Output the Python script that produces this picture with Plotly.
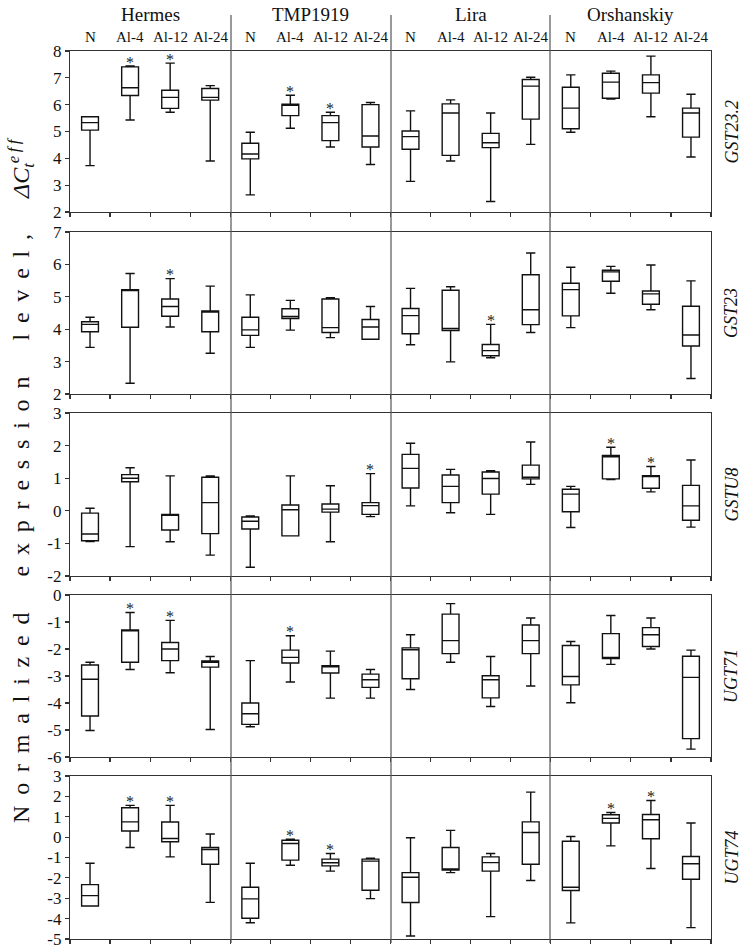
import plotly.graph_objects as go

W, H = 743, 950
OFF = 0

cultivars = ["Hermes", "TMP1919", "Lira", "Orshanskiy"]
treatments = ["N", "Al-4", "Al-12", "Al-24"]
genes = ["GST23.2", "GST23", "GSTU8", "UGT71", "UGT74"]

# ---- GST23.2 (order: Hermes N..Al-24, TMP1919, Lira, Orshanskiy)
gst232_lo  = [3.73, 5.43, 5.72, 3.90,  2.64, 5.12, 4.42, 3.77,  3.14, 3.90, 2.39, 4.52,  4.97, 6.21, 5.55, 4.05]
gst232_q1  = [5.05, 6.34, 5.86, 6.17,  3.98, 5.59, 4.66, 4.42,  4.34, 4.11, 4.40, 5.46,  5.10, 6.24, 6.43, 4.79]
gst232_med = [5.33, 6.63, 6.27, 6.27,  4.16, 5.98, 5.33, 4.83,  4.81, 5.69, 4.58, 6.69,  5.87, 6.84, 6.82, 5.69]
gst232_q3  = [5.55, 7.41, 6.54, 6.60,  4.56, 6.02, 5.59, 6.00,  5.02, 6.03, 4.93, 6.94,  6.65, 7.17, 7.11, 5.87]
gst232_hi  = [5.55, 7.44, 7.55, 6.71,  4.97, 6.35, 5.72, 6.08,  5.77, 6.18, 5.69, 7.02,  7.11, 7.25, 7.81, 6.39]
gst232_sig = [1, 2, 5, 6]

# ---- GST23
gst23_lo  = [3.44, 2.33, 4.07, 3.26,  3.44, 3.97, 3.74, 3.69,  3.52, 2.99, 3.12, 3.90,  4.05, 5.11, 4.60, 2.48]
gst23_q1  = [3.92, 4.06, 4.40, 3.92,  3.81, 4.33, 3.90, 3.69,  3.86, 3.96, 3.18, 4.14,  4.41, 5.48, 4.77, 3.48]
gst23_med = [4.15, 5.20, 4.70, 4.54,  3.98, 4.39, 4.05, 4.07,  4.42, 4.02, 3.34, 4.60,  5.22, 5.77, 5.09, 3.82]
gst23_q3  = [4.23, 5.22, 4.93, 4.56,  4.37, 4.63, 4.93, 4.30,  4.64, 5.20, 3.53, 5.68,  5.42, 5.82, 5.18, 4.71]
gst23_hi  = [4.37, 5.72, 5.56, 5.33,  5.06, 4.89, 4.97, 4.70,  5.26, 5.31, 4.15, 6.35,  5.91, 5.94, 5.98, 5.49]
gst23_sig = [2, 10]

# ---- GSTU8
gstu8_lo  = [-0.94, -1.10, -0.95, -1.36,  -1.73, -0.77, -0.95, -0.18,  0.15, -0.06, -0.11, 0.81,  -0.51, 0.96, 0.58, -0.50]
gstu8_q1  = [-0.92, 0.89, -0.59, -0.70,  -0.56, -0.77, -0.04, -0.11,  0.70, 0.25, 0.51, 0.98,  -0.03, 0.98, 0.69, -0.29]
gstu8_med = [-0.71, 1.00, -0.12, 0.25,  -0.32, 0.03, 0.05, 0.16,  1.30, 0.75, 0.99, 1.03,  0.51, 1.66, 1.05, 0.15]
gstu8_q3  = [-0.07, 1.11, -0.11, 1.03,  -0.19, 0.18, 0.21, 0.25,  1.73, 1.10, 1.19, 1.40,  0.66, 1.70, 1.08, 0.78]
gstu8_hi  = [0.08, 1.32, 1.07, 1.07,  -0.16, 1.07, 0.77, 1.14,  2.07, 1.27, 1.23, 2.11,  0.75, 1.95, 1.36, 1.56]
gstu8_sig = [7, 13, 14]

# ---- UGT71
ugt71_lo  = [-5.02, -2.76, -2.88, -4.98,  -4.88, -3.22, -3.82, -3.82,  -3.50, -2.49, -4.13, -3.37,  -3.99, -2.57, -2.00, -5.71]
ugt71_q1  = [-4.48, -2.49, -2.43, -2.67,  -4.79, -2.52, -2.89, -3.42,  -3.10, -2.17, -3.81, -2.17,  -3.33, -2.35, -1.91, -5.32]
ugt71_med = [-3.12, -1.32, -2.00, -2.49,  -4.40, -2.31, -2.66, -3.14,  -2.03, -1.69, -3.14, -1.69,  -3.02, -2.33, -1.47, -3.05]
ugt71_q3  = [-2.59, -1.29, -1.76, -2.44,  -4.00, -2.04, -2.62, -2.93,  -1.96, -0.71, -2.99, -1.11,  -1.87, -1.43, -1.21, -2.27]
ugt71_hi  = [-2.49, -0.65, -0.94, -2.28,  -2.43, -1.51, -2.08, -2.76,  -1.47, -0.32, -2.28, -0.85,  -1.72, -0.76, -0.85, -2.04]
ugt71_sig = [1, 2, 5]

# ---- UGT74
ugt74_lo  = [-3.38, -0.51, -0.97, -3.20,  -4.20, -1.38, -1.67, -3.02,  -4.85, -1.74, -3.90, -2.13,  -4.21, -0.43, -1.54, -4.44]
ugt74_q1  = [-3.38, 0.30, -0.23, -1.33,  -3.98, -1.13, -1.41, -2.61,  -3.21, -1.62, -1.67, -1.33,  -2.62, 0.69, -0.08, -2.07]
ugt74_med = [-2.87, 0.75, -0.07, -0.61,  -3.03, -0.31, -1.26, -1.18,  -1.97, -1.56, -1.25, 0.23,  -2.46, 0.92, 0.85, -1.31]
ugt74_q3  = [-2.33, 1.44, 0.74, -0.51,  -2.46, -0.15, -1.08, -1.08,  -1.74, -0.51, -0.97, 0.75,  -0.20, 1.10, 1.11, -0.95]
ugt74_hi  = [-1.28, 1.56, 1.56, 0.15,  -1.28, -0.10, -0.80, -1.03,  -0.03, 0.33, -0.80, 2.21,  0.03, 1.21, 1.80, 0.69]
ugt74_sig = [1, 2, 5, 6, 13, 14]

y_ranges = [(2, 8), (2, 7), (-2, 3), (-6, 0), (-5, 3)]

rows_data = [
    (gst232_lo, gst232_q1, gst232_med, gst232_q3, gst232_hi, gst232_sig),
    (gst23_lo, gst23_q1, gst23_med, gst23_q3, gst23_hi, gst23_sig),
    (gstu8_lo, gstu8_q1, gstu8_med, gstu8_q3, gstu8_hi, gstu8_sig),
    (ugt71_lo, ugt71_q1, ugt71_med, ugt71_q3, ugt71_hi, ugt71_sig),
    (ugt74_lo, ugt74_q1, ugt74_med, ugt74_q3, ugt74_hi, ugt74_sig),
]

# layout geometry (screen pixels of the target picture)
X0, X1 = 70, 711
row_px = [(51, 212), (232, 394), (413, 576), (595, 757), (776, 939)]
sep_px = [231, 391, 550]
FONT = "Liberation Serif, Times New Roman, serif"
LINE = "#333333"
TXT = "#111111"


def px_x(p):
    return (p - OFF) / W


def px_y(p):
    return 1 - (p - OFF) / H


fig = go.Figure()
positions = [i + 0.5 for i in range(16)]
annotations = []
layout = dict(
    template="none",
    width=W, height=H,
    margin=dict(l=0, r=0, t=0, b=0, autoexpand=False),
    paper_bgcolor="white", plot_bgcolor="white",
    showlegend=False,
    font=dict(family=FONT, color=TXT),
)

for r, (lo, q1, med, q3, hi, sig) in enumerate(rows_data):
    k = "" if r == 0 else str(r + 1)
    fig.add_trace(go.Box(
        x=positions, q1=q1, median=med, q3=q3,
        lowerfence=lo, upperfence=hi,
        xaxis="x" + k, yaxis="y" + k,
        width=0.42, whiskerwidth=0.55,
        fillcolor="white", line=dict(color="#111111", width=1.4),
        boxpoints=False, hoverinfo="skip",
    ))
    for i in sig:
        annotations.append(dict(
            x=positions[i], y=hi[i], xref="x" + k, yref="y" + k,
            text="*", showarrow=False, xanchor="center", yanchor="middle", yshift=4,
            font=dict(family=FONT, size=16, color="#222222"),
        ))
    top, bot = row_px[r]
    ylo, yhi = y_ranges[r]
    tv = list(range(ylo, yhi + 1))
    layout["xaxis" + k] = dict(
        domain=[px_x(X0), px_x(X1)], range=[0, 16], anchor="y" + k,
        tickvals=list(range(17)), ticks="outside", ticklen=4, tickwidth=1.2,
        tickcolor=LINE, showticklabels=False, showline=True, mirror=True,
        linecolor=LINE, linewidth=1.2, showgrid=False, zeroline=False,
        fixedrange=True, automargin=False,
    )
    layout["yaxis" + k] = dict(
        domain=[px_y(bot), px_y(top)], range=[ylo, yhi], anchor="x" + k,
        tickvals=tv, ticktext=[str(v) for v in tv],
        ticks="outside", ticklen=4, tickwidth=1.2, tickcolor=LINE,
        tickfont=dict(family=FONT, size=17, color=TXT),
        showline=True, mirror=True, linecolor=LINE, linewidth=1.2,
        showgrid=False, zeroline=False, fixedrange=True, automargin=False,
    )
    annotations.append(dict(
        x=px_x(731), y=px_y((top + bot) / 2), xref="paper", yref="paper",
        xanchor="center", yanchor="middle",
        text="<i>" + genes[r] + "</i>", showarrow=False, textangle=-90,
        font=dict(family=FONT, size=18, color=TXT),
    ))

# column headers and treatment labels
col_w = (X1 - X0) / 4
for c, name in enumerate(cultivars):
    annotations.append(dict(
        x=px_x(X0 + col_w * (c + 0.5)), y=px_y(14), xref="paper", yref="paper",
        xanchor="center", yanchor="middle",
        text=name, showarrow=False, font=dict(family=FONT, size=19, color=TXT),
    ))
    for t, lab in enumerate(treatments):
        annotations.append(dict(
            x=positions[c * 4 + t], y=px_y(37), xref="x", yref="paper",
            xanchor="center", yanchor="middle",
            text=lab, showarrow=False, font=dict(family=FONT, size=15, color=TXT),
        ))

# y axis title
nb = "\u00a0"
th = "\u2009"


def spaced(word):
    return (nb + th).join(list(word))


gap = nb * 6
title = (spaced("Normalized") + gap + spaced("expression") + gap +
         spaced("level,") + gap + "<i>ΔC<sub>t</sub><sup>e" + th + "f" + th + "f</sup></i>")
annotations.append(dict(
    x=px_x(21), y=px_y(480), xref="paper", yref="paper", text=title,
    xanchor="center", yanchor="middle",
    showarrow=False, textangle=-90, font=dict(family=FONT, size=24, color=TXT),
))

shapes = []
for sx in sep_px:
    shapes.append(dict(type="line", xref="paper", yref="paper",
                       x0=px_x(sx), x1=px_x(sx), y0=px_y(943), y1=px_y(15),
                       line=dict(color="#555555", width=1.2)))

layout["annotations"] = annotations
layout["shapes"] = shapes
fig.update_layout(**layout)
fig.write_html(
    "out.html",
    config={"displayModeBar": False, "staticPlot": True},
    post_script="document.body.style.margin='0';document.body.style.overflow='hidden';",
)
